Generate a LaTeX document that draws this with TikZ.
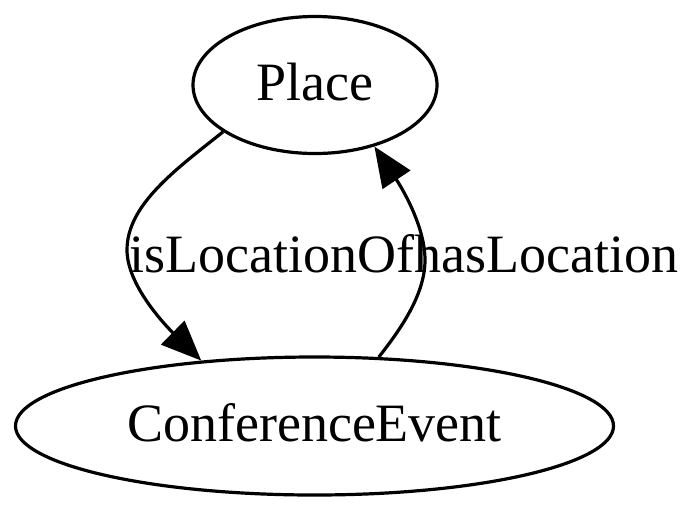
\documentclass[tikz,border=0pt]{standalone}
\usepackage{fontspec}
\setmainfont{Liberation Serif}
\usetikzlibrary{shapes.geometric,arrows.meta}
\begin{document}
\begin{tikzpicture}[x=1pt,y=1pt,
  gvnode/.style={ellipse,draw,line width=3.2pt,inner sep=0pt,
    font=\fontsize{54}{60}\selectfont,text height=30pt,text depth=0pt},
  gvedge/.style={line width=3.2pt,-{Triangle[length=40pt,width=33pt]}},
  gvlabel/.style={font=\fontsize{54}{60}\selectfont,anchor=base,inner sep=0pt}]
\useasboundingbox (0,0) rectangle (700,-512);
\node[gvnode,minimum width=244pt,minimum height=137pt] (P) at (315,-85) {Place};
\node[gvnode,minimum width=598pt,minimum height=138pt] (C) at (314.5,-426) {ConferenceEvent};
\draw[gvedge] (P.207.5) .. controls (175,-170) and (127,-205) .. (127,-250)
  .. controls (127,-285) and (165,-325) .. (C.150.5);
\draw[gvedge] (C.47) .. controls (400,-330) and (425,-295) .. (425,-260)
  .. controls (425,-225) and (400,-185) .. (P.314.5);
\node[gvlabel] (L) at (404,-272) {isLocationOfhasLocation};
\end{tikzpicture}
\end{document}
